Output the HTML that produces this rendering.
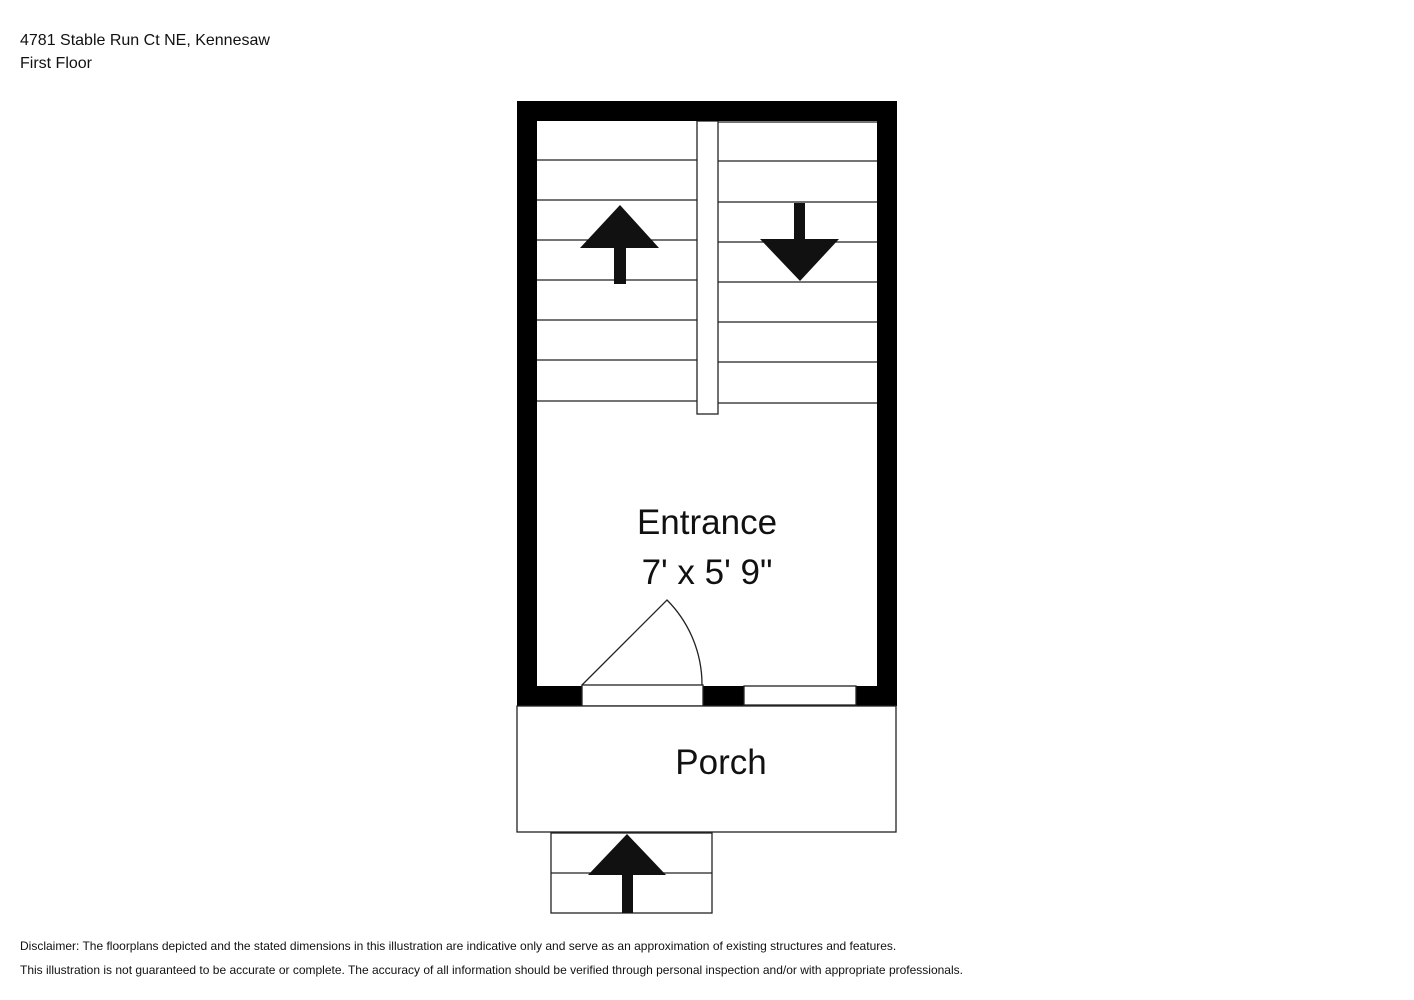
<!DOCTYPE html>
<html><head><meta charset="utf-8"><style>
html,body{margin:0;padding:0;background:#fff;}
svg{display:block;}
text{font-family:"Liberation Sans",Arial,sans-serif;fill:#111;}
</style></head><body>
<svg width="1414" height="1000" viewBox="0 0 1414 1000" xmlns="http://www.w3.org/2000/svg">
<rect width="1414" height="1000" fill="#fff"/>
<text x="20" y="45" font-size="16">4781 Stable Run Ct NE, Kennesaw</text>
<text x="20" y="68" font-size="16">First Floor</text>
<g stroke="#222" stroke-width="1.3">
<line x1="537" y1="160" x2="697" y2="160"/><line x1="537" y1="200" x2="697" y2="200"/>
<line x1="537" y1="240" x2="697" y2="240"/><line x1="537" y1="280" x2="697" y2="280"/>
<line x1="537" y1="320" x2="697" y2="320"/><line x1="537" y1="360" x2="697" y2="360"/>
<line x1="537" y1="401" x2="697" y2="401"/>
<line x1="718" y1="122" x2="877" y2="122"/><line x1="718" y1="161" x2="877" y2="161"/>
<line x1="718" y1="202" x2="877" y2="202"/><line x1="718" y1="242" x2="877" y2="242"/>
<line x1="718" y1="282" x2="877" y2="282"/><line x1="718" y1="322" x2="877" y2="322"/>
<line x1="718" y1="362" x2="877" y2="362"/><line x1="718" y1="403" x2="877" y2="403"/>
</g>
<rect x="697" y="121" width="21" height="293" fill="#fff" stroke="#222" stroke-width="1.3"/>
<rect x="517" y="101" width="380" height="20" fill="#000"/>
<rect x="517" y="101" width="20" height="605" fill="#000"/>
<rect x="877" y="101" width="20" height="605" fill="#000"/>
<rect x="517" y="686" width="380" height="20" fill="#000"/>
<polygon points="620,205 659,248 580,248" fill="#111"/>
<rect x="614" y="247" width="12" height="37" fill="#111"/>
<rect x="794" y="203" width="11" height="38" fill="#111"/>
<polygon points="760,239 839,239 800,281" fill="#111"/>
<rect x="582" y="685" width="121" height="21" fill="#fff" stroke="#222" stroke-width="1.3"/>
<path d="M582,685 L667,600 A120,120 0 0 1 702,685" fill="none" stroke="#222" stroke-width="1.3"/>
<rect x="744" y="686" width="112" height="19" fill="#fff" stroke="#222" stroke-width="1.3"/>
<rect x="517" y="706" width="379" height="126" fill="#fff" stroke="#222" stroke-width="1.3"/>
<rect x="551" y="833" width="161" height="80" fill="#fff" stroke="#222" stroke-width="1.3"/>
<line x1="551" y1="873" x2="712" y2="873" stroke="#222" stroke-width="1.3"/>
<polygon points="627,834 666,875 588,875" fill="#111"/>
<rect x="622" y="874" width="11" height="39" fill="#111"/>
<text x="707" y="534" font-size="35" text-anchor="middle">Entrance</text>
<text x="707" y="584" font-size="35" text-anchor="middle">7' x 5' 9"</text>
<text x="721" y="774" font-size="35" text-anchor="middle">Porch</text>
<text x="20" y="950" font-size="12">Disclaimer: The floorplans depicted and the stated dimensions in this illustration are indicative only and serve as an approximation of existing structures and features.</text>
<text x="20" y="974" font-size="12">This illustration is not guaranteed to be accurate or complete. The accuracy of all information should be verified through personal inspection and/or with appropriate professionals.</text>
</svg>
</body></html>
